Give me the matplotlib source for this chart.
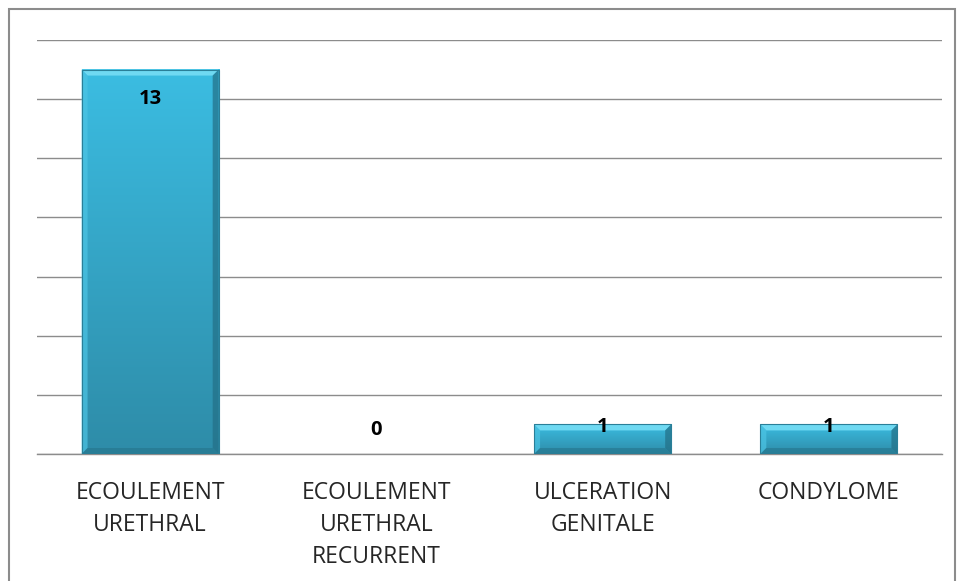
import numpy as np
import matplotlib.pyplot as plt
from matplotlib.patches import Polygon, Rectangle

categories = ["ECOULEMENT\nURETHRAL", "ECOULEMENT\nURETHRAL\nRECURRENT",
              "ULCERATION\nGENITALE", "CONDYLOME"]
values = [13, 0, 1, 1]

W, H = 957, 581
fig = plt.figure(figsize=(W / 100, H / 100), dpi=100)
fig.patches.append(Rectangle((9 / W, -0.05), (955 - 9) / W, 1 - 9 / H + 0.05,
                             transform=fig.transFigure, fill=False,
                             edgecolor="#8c8c8c", linewidth=1.5))

ax = fig.add_axes([37 / W, 1 - 454 / H, (942 - 37) / W, (454 - 40) / H])
x = np.arange(len(categories))
bars = ax.bar(x, values, width=0.606, color="#37aed0", zorder=3)

ax.set_xlim(-0.5, len(categories) - 0.5)
ax.set_ylim(0, 14)
ax.set_yticks(np.arange(0, 15, 2))
ax.yaxis.grid(True, color="#8c8c8c", linewidth=1.0)
ax.set_axisbelow(True)
for s in ax.spines.values():
    s.set_visible(False)
ax.tick_params(axis="y", left=False, labelleft=False)
ax.tick_params(axis="x", bottom=False, pad=16)
ax.set_xticks(x)
ax.set_xticklabels(categories, fontsize=16.5, color="#262626",
                   family="Open Sans", linespacing=1.45, va="top")
ax.axhline(0, color="#8c8c8c", linewidth=1.0, zorder=2, clip_on=False)

# bevel look on each bar
fig.canvas.draw()
px_x = 1 / ax.transData.get_matrix()[0, 0]
px_y = 1 / ax.transData.get_matrix()[1, 1]
grad = np.linspace(0, 1, 256).reshape(-1, 1)
cmap = plt.matplotlib.colors.LinearSegmentedColormap.from_list(
    "b", ["#2e8ca8", "#3bbde2"])
for b in bars:
    x0, w, h = b.get_x(), b.get_width(), b.get_height()
    if h <= 0:
        continue
    b.set_visible(False)
    ax.imshow(grad, extent=(x0, x0 + w, 0, h), origin="lower", cmap=cmap,
              aspect="auto", zorder=3)
    bx, by = 6 * px_x, min(6 * px_y, h / 3)
    top = Polygon([(x0, h), (x0 + w, h), (x0 + w - bx, h - by), (x0 + bx, h - by)],
                  closed=True, color="#6fd9f2", zorder=4, lw=0)
    left = Polygon([(x0, h), (x0 + bx, h - by), (x0 + bx, by), (x0, 0)],
                   closed=True, color="#4cc4e4", alpha=0.7, zorder=4, lw=0)
    right = Polygon([(x0 + w, h), (x0 + w - bx, h - by), (x0 + w - bx, by), (x0 + w, 0)],
                    closed=True, color="#236f86", alpha=0.7, zorder=4, lw=0)
    bot = Polygon([(x0, 0), (x0 + bx, by), (x0 + w - bx, by), (x0 + w, 0)],
                  closed=True, color="#236f86", alpha=0.5, zorder=4, lw=0)
    for p in (top, left, right, bot):
        ax.add_patch(p)
    ax.add_patch(Rectangle((x0, 0), w, h, fill=False, edgecolor="#2a7f98",
                           linewidth=0.8, zorder=5))
ax.set_xlim(-0.5, len(categories) - 0.5)
ax.set_ylim(0, 14)

label_offsets = [-29, 24, -3, -3]
for xi, v, off in zip(x, values, label_offsets):
    ax.annotate(str(v), (xi, v), xytext=(0, off), textcoords="offset pixels",
                ha="center", va="center", fontsize=14.5, fontweight="bold",
                family="Open Sans", color="black", zorder=6)

fig.savefig("out.png", dpi=100)
